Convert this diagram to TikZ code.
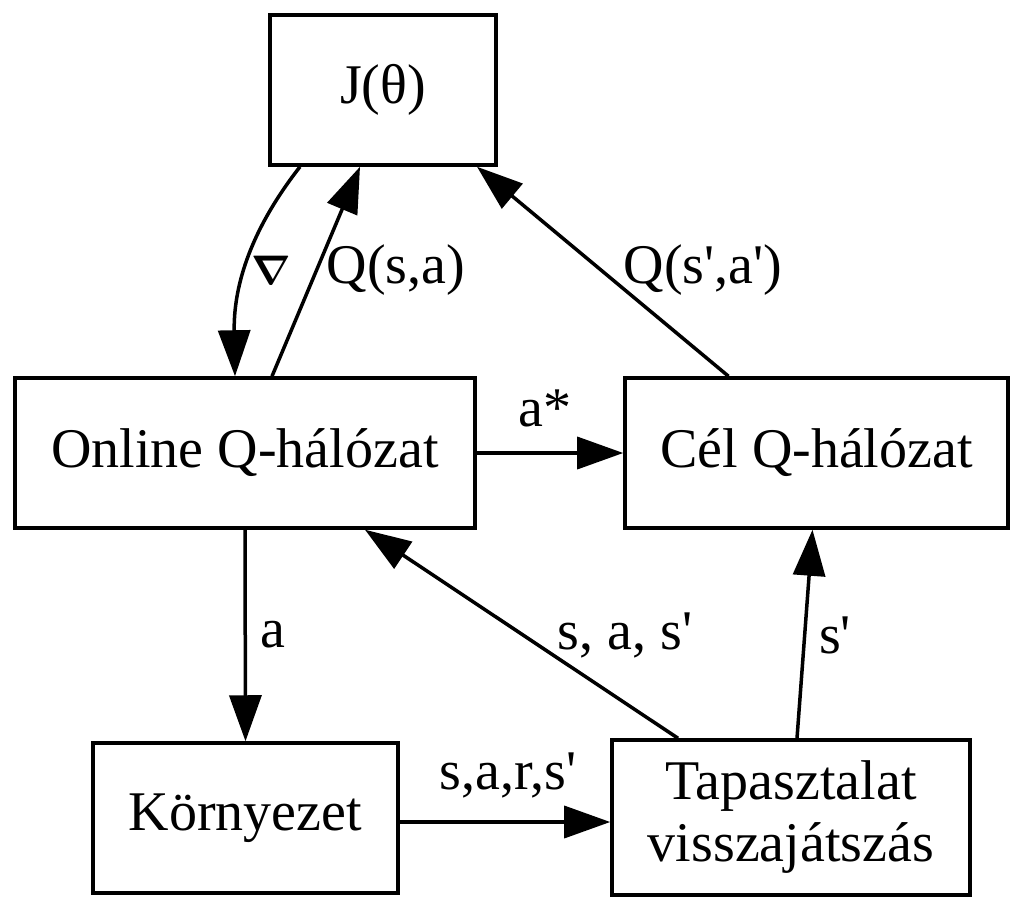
\documentclass[tikz,border=0pt]{standalone}
\usepackage{amsmath}
\usepackage{fontspec}
\newfontfamily\diafont{Liberation Serif}
\usetikzlibrary{arrows.meta}

\tikzset{
  box/.style={draw=black, line width=1.75bp, inner sep=0pt, align=center,
    font=\diafont\fontsize{28bp}{31bp}\selectfont},
  edge/.style={draw=black, line width=1.75bp, -{Triangle[length=23bp, width=16bp]}},
  lbl/.style={inner sep=0pt, outer sep=0pt, font=\diafont\fontsize{28bp}{31bp}\selectfont},
}

\begin{document}
\begin{tikzpicture}[x=0.5bp, y=-0.5bp, line join=miter]
  \useasboundingbox (0,0) rectangle (1025,917);
  % nodes
  \node[box, minimum width=113bp, minimum height=75bp] (jt) at (383,90) {J(θ)};
  \node[box, minimum width=230bp, minimum height=75bp] (online) at (245,453) {Online Q-hálózat};
  \node[box, minimum width=191.5bp, minimum height=75bp] (cel) at (816.5,453) {Cél Q-hálózat};
  \node[box, minimum width=152.5bp, minimum height=75bp] (korny) at (245.5,818) {Környezet};
  \node[box, minimum width=179bp, minimum height=77.5bp] (tap) at (791,817.5) {Tapasztalat\\visszajátszás};
  % connectors
  \path[edge] ([xshift=-41.5bp]jt.south) to[out=-128, in=91] ([xshift=-5bp]online.north);
  \path[edge] ([xshift=13.5bp]online.north) -- ([xshift=-11.5bp]jt.south);
  \path[edge] ([xshift=-44bp]cel.north) -- ([xshift=47bp]jt.south);
  \path[edge] (online.east) -- (cel.west);
  \path[edge] (online.south) -- (korny.north);
  \path[edge] ([xshift=-56.5bp]tap.north) -- ([xshift=60bp]online.south);
  \path[edge] ([xshift=3bp]tap.north) -- ([xshift=-2bp]cel.south);
  \path[edge] (korny.east |- 0,822) -- (tap.west |- 0,822);
  % labels
  \node[lbl] (lnabla) at (271,270) {\fontsize{21bp}{24bp}\selectfont$\boldsymbol{\nabla}$};
  \node[lbl] (lqsa) at (396,270) {Q(s,a)};
  \node[lbl] (lqsa2) at (703,270) {Q(s',a')};
  \node[lbl] (lastar) at (545,408) {a*};
  \node[lbl] (la) at (273,635) {a};
  \node[lbl] (lsas) at (625,635) {s, a, s'};
  \node[lbl] (ls) at (835,635) {s'};
  \node[lbl] (lsars) at (508,775) {s,a,r,s'};
\end{tikzpicture}
\end{document}
